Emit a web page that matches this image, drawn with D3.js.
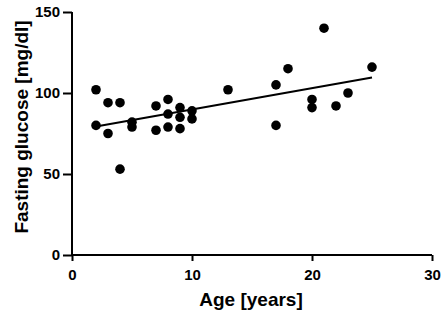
<html>
  <head>
    <style>
      body { margin: 0; background: #fff; }
      text { font-family: "Liberation Sans", Arial, sans-serif; font-weight: bold; }
    </style>
  </head>
  <body>
    <svg id="container" width="447" height="314"></svg>
    <script src="https://cdn.jsdelivr.net/npm/d3@7"></script>
    <script>
      // values
      const ages = [2, 2, 3, 3, 4, 4, 5, 5, 7, 7, 8, 8, 8, 9, 9, 9, 10, 10,
                    13, 17, 17, 18, 20, 20, 21, 22, 23, 25];
      const glucose = [102, 80, 94, 75, 94, 53, 82, 79, 92, 77, 96, 87, 79, 91, 85, 78, 89, 84,
                       102, 105, 80, 115, 96, 91, 140, 92, 100, 116];
      const xTicks = [0, 10, 20, 30];
      const yTicks = [0, 50, 100, 150];

      let svg = d3.select("#container");

      let x = d3.scaleLinear().domain([0, 30]).range([72, 432]);
      let y = d3.scaleLinear().domain([0, 150]).range([255, 12]);

      let xAxis = svg.append("g")
        .attr("transform", "translate(0,255)")
        .call(d3.axisBottom(x).tickValues(xTicks).tickSize(6).tickPadding(8));
      let yAxis = svg.append("g")
        .attr("transform", "translate(72,0)")
        .call(d3.axisLeft(y).tickValues(yTicks).tickSize(9).tickPadding(3));

      [xAxis, yAxis].forEach((a) => {
        a.selectAll("path, line").attr("stroke", "#000").attr("stroke-width", 2);
        a.selectAll("text").attr("font-size", 15).attr("fill", "#000")
          .style("font-family", '"Liberation Sans", Arial, sans-serif').style("font-weight", "bold");
      });
      // plain domain lines without end ticks
      xAxis.select(".domain").attr("d", "M" + x(0) + ",0H" + x(30));
      yAxis.select(".domain").attr("d", "M0," + y(0) + "V" + y(150));

      // linear regression
      let mx = d3.mean(ages), my = d3.mean(glucose);
      let sxy = d3.sum(ages, (a, i) => (a - mx) * (glucose[i] - my));
      let sxx = d3.sum(ages, (a) => (a - mx) * (a - mx));
      let slope = sxy / sxx, icpt = my - slope * mx;
      let fitX = d3.extent(ages);

      svg.append("line")
        .attr("x1", x(fitX[0])).attr("y1", y(icpt + slope * fitX[0]))
        .attr("x2", x(fitX[1])).attr("y2", y(icpt + slope * fitX[1]))
        .attr("stroke", "#000").attr("stroke-width", 2);

      svg.append("g").selectAll("circle")
        .data(ages)
        .enter()
        .append("circle")
        .attr("cx", (d) => x(d))
        .attr("cy", (d, i) => y(glucose[i]))
        .attr("r", 4.8)
        .attr("fill", "#000");

      svg.append("text")
        .attr("x", 251).attr("y", 306)
        .attr("text-anchor", "middle").attr("font-size", 19)
        .text("Age [years]");

      svg.append("text")
        .attr("transform", "translate(28,127) rotate(-90)")
        .attr("text-anchor", "middle").attr("font-size", 19)
        .text("Fasting glucose [mg/dl]");
    </script>
  </body>
</html>
